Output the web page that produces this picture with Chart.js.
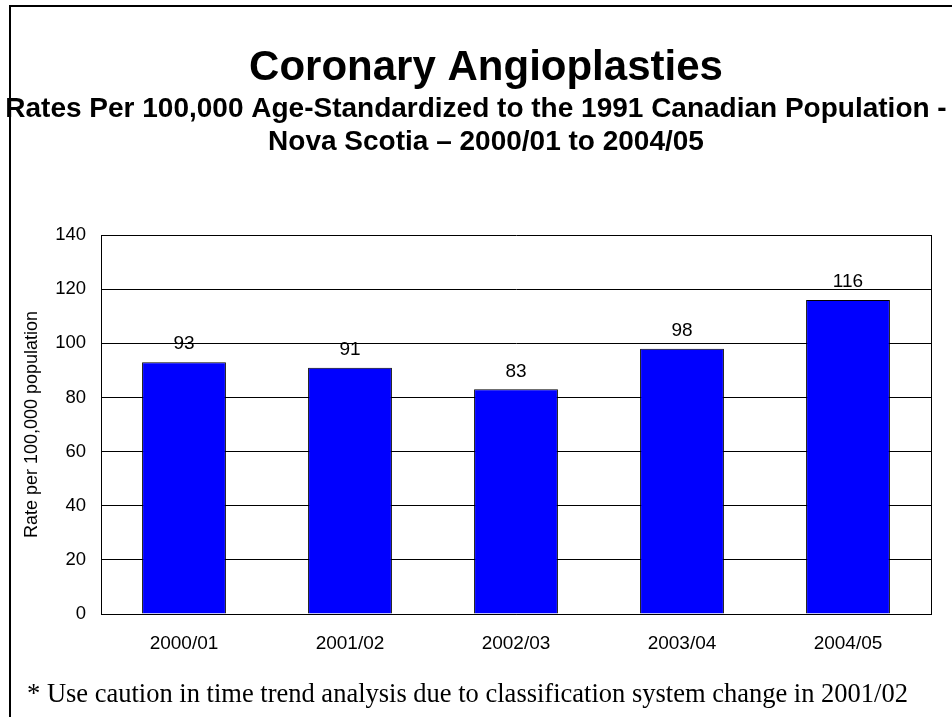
<!DOCTYPE html>
<html>
<head>
<meta charset="utf-8">
<script src="https://cdn.jsdelivr.net/npm/chart.js@4.4.1/dist/chart.umd.min.js"></script>
<style>
  html, body { margin: 0; padding: 0; background: #fff; }
  #wrap { width: 952px; height: 717px; }
</style>
</head>
<body>
<div id="wrap"><canvas id="chart" width="952" height="717"></canvas></div>
<script>
// ======= Data =======
const years = ['2000/01', '2001/02', '2002/03', '2003/04', '2004/05'];
const rates = [93, 91, 83, 98, 116];
const yTicks = [0, 20, 40, 60, 80, 100, 120, 140];

const titleText = 'Coronary Angioplasties';
const subtitleLines = [
    'Rates Per 100,000 Age-Standardized to the 1991 Canadian Population -',
    'Nova Scotia \u2013 2000/01 to 2004/05'
];
const footnote = '* Use caution in time trend analysis due to classification system change in 2001/02';
const sans = '"Liberation Sans", Arial, sans-serif';

// ======= Frame, titles, value labels and footnote =======
const extras = {
    id: 'extras',
    beforeDraw(chart) {
        const ctx = chart.ctx;
        ctx.save();
        ctx.fillStyle = '#fff';
        ctx.fillRect(0, 0, chart.width, chart.height);

        // outer frame (left + top only, the rest runs off the picture)
        ctx.strokeStyle = '#000';
        ctx.lineWidth = 2;
        ctx.beginPath();
        ctx.moveTo(10, chart.height);
        ctx.lineTo(10, 6);
        ctx.lineTo(chart.width, 6);
        ctx.stroke();

        ctx.fillStyle = '#000';
        ctx.textAlign = 'center';
        ctx.textBaseline = 'alphabetic';
        ctx.font = 'bold 42px ' + sans;
        ctx.fillText(titleText, 486, 80);
        ctx.font = 'bold 28px ' + sans;
        ctx.fillText(subtitleLines[0], 476, 117);
        ctx.fillText(subtitleLines[1], 486, 150);

        ctx.font = '26.5px "Liberation Serif", "Times New Roman", serif';
        ctx.textAlign = 'left';
        ctx.fillText(footnote, 27, 702);
        ctx.restore();
    },
    afterDatasetsDraw(chart) {
        const ctx = chart.ctx;
        const meta = chart.getDatasetMeta(0);
        ctx.save();
        ctx.fillStyle = '#000';
        ctx.font = '19px ' + sans;
        ctx.textAlign = 'center';
        ctx.textBaseline = 'middle';
        meta.data.forEach((bar, i) => {
            ctx.fillText(String(rates[i]), bar.x, bar.y - 18);
        });
        ctx.restore();
    }
};

new Chart(document.getElementById('chart'), {
    type: 'bar',
    data: {
        labels: years,
        datasets: [{
            data: rates,
            backgroundColor: '#0000FF',
            borderColor: '#000',
            borderWidth: 1,
            categoryPercentage: 1,
            barPercentage: 0.505
        }]
    },
    options: {
        responsive: false,
        animation: false,
        layout: { padding: { top: 235, left: 0, right: 0, bottom: 53 } },
        plugins: {
            legend: { display: false },
            tooltip: { enabled: false },
            title: { display: false }
        },
        scales: {
            x: {
                grid: { display: false, drawTicks: false },
                border: { display: true, color: '#000', width: 1 },
                ticks: { color: '#000', font: { family: sans, size: 19 }, padding: 18 },
                afterFit: s => { s.height = 50; }
            },
            y: {
                min: 0,
                max: 140,
                afterBuildTicks: s => { s.ticks = yTicks.map(v => ({ value: v })); },
                grid: { color: '#000', lineWidth: 1, drawTicks: false },
                border: { display: true, color: '#000', width: 1 },
                ticks: { color: '#000', font: { family: sans, size: 18.5 }, padding: 15 },
                title: {
                    display: true,
                    text: 'Rate per 100,000 population',
                    color: '#000',
                    font: { family: sans, size: 18, lineHeight: 1.2 },
                    padding: { top: 21, bottom: 0 }
                },
                afterFit: s => { s.width = 101; }
            },
            y2: {
                position: 'right',
                grid: { display: false, drawTicks: false },
                border: { display: true, color: '#000', width: 1 },
                ticks: { display: false },
                afterFit: s => { s.width = 21; }
            }
        }
    },
    plugins: [extras]
});
</script>
</body>
</html>
